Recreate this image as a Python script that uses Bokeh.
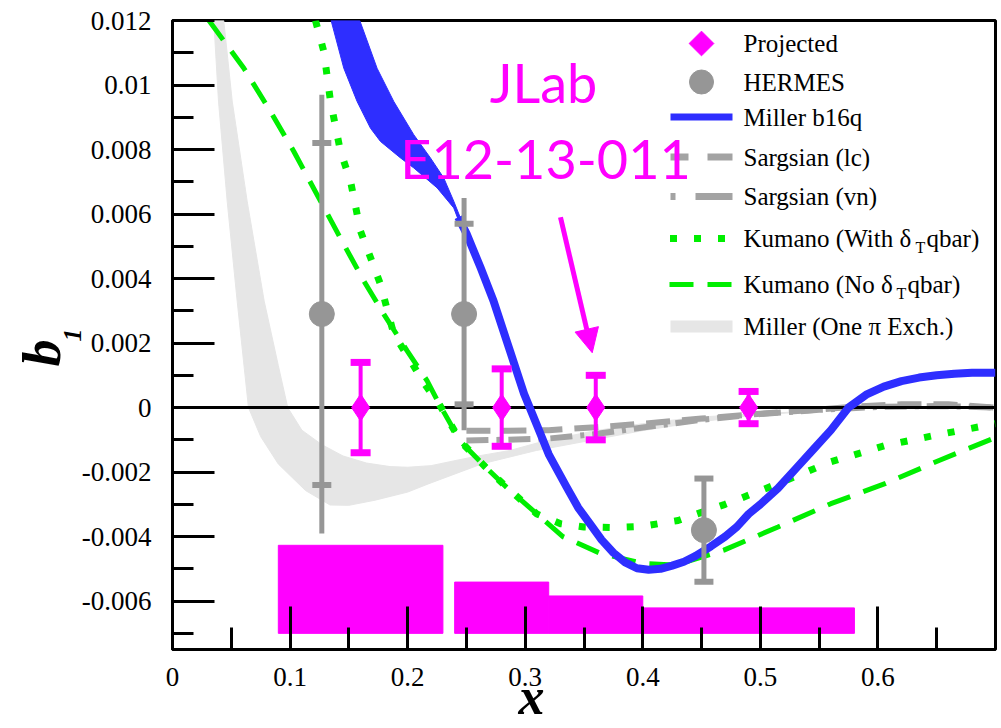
import numpy as np
from bokeh.plotting import figure
from bokeh.models import (Range1d, FixedTicker, CustomJSTickFormatter, Label, Arrow, NormalHead,
                          Title)
from bokeh.embed import file_html
from bokeh.resources import INLINE

# ---------------- data ----------------
x_ticks = [0.0, 0.1, 0.2, 0.3, 0.4, 0.5, 0.6]
x_minor = [0.05, 0.15, 0.25, 0.35, 0.45, 0.55, 0.65]
y_ticks = [-0.006, -0.004, -0.002, 0.0, 0.002, 0.004, 0.006, 0.008, 0.01, 0.012]
y_minor = [-0.007, -0.005, -0.003, -0.001, 0.001, 0.003, 0.005, 0.007, 0.009, 0.011]

# Projected JLab E12-13-011 points
proj_x = [0.16, 0.28, 0.36, 0.49]
proj_b1 = [0.0, 0.0, 0.0, 0.0]
proj_err = [0.0014, 0.0012, 0.0010, 0.0005]

# Projected systematic bands (bins)
sys_left = [0.09, 0.24, 0.32, 0.40]
sys_right = [0.23, 0.32, 0.40, 0.58]
sys_top = [-0.00427, -0.00541, -0.00584, -0.00621]
sys_base = [-0.007, -0.007, -0.007, -0.007]

# HERMES
hermes_x = [0.127, 0.248, 0.452]
hermes_b1 = [0.0029, 0.0029, -0.0038]
hermes_tot = [0.0068, 0.0036, 0.0016]
hermes_stat = [0.0053, 0.0028, 0.0016]

# Miller b16q band (upper/right edge and lower/left edge) and line
miller_hi_x = [0.1593, 0.174, 0.1882, 0.2052, 0.2194, 0.2307, 0.2392, 0.2449]
miller_hi_y = [0.0120, 0.01052, 0.00949, 0.00846, 0.00774, 0.00712, 0.0064, 0.00588]
miller_lo_x = [0.1349, 0.1457, 0.157, 0.1684, 0.1769, 0.1939, 0.2052, 0.2251, 0.2392, 0.2435]
miller_lo_y = [0.0120, 0.01052, 0.00949, 0.00866, 0.00825, 0.00774, 0.00743, 0.00681, 0.00619, 0.00578]
miller_x = [0.243, 0.25, 0.262, 0.273, 0.287, 0.299, 0.31, 0.32, 0.335, 0.345, 0.355, 0.365,
            0.375, 0.385, 0.395, 0.405, 0.415, 0.425, 0.435, 0.445, 0.458, 0.47, 0.48, 0.49,
            0.50, 0.515, 0.53, 0.545, 0.56, 0.575, 0.59, 0.605, 0.62, 0.635, 0.65, 0.665,
            0.68, 0.70]
miller_b1 = [0.0059, 0.0054, 0.00434, 0.00331, 0.00176, 0.00043, -0.00055, -0.00145, -0.00245,
             -0.0031, -0.0036, -0.0041, -0.0045, -0.0048, -0.00498, -0.00503, -0.005, -0.0049,
             -0.00478, -0.0046, -0.0043, -0.0040, -0.0037, -0.0033, -0.0030, -0.0025, -0.0019,
             -0.0013, -0.0007, 0.0, 0.0004, 0.00065, 0.00082, 0.00093, 0.001, 0.00105, 0.00108,
             0.00108]

# Miller one-pion-exchange band
pi_hi_x = [0.0436, 0.0508, 0.0635, 0.078, 0.09, 0.098, 0.11, 0.127, 0.145, 0.165, 0.185, 0.20,
           0.22, 0.241, 0.26, 0.287, 0.31, 0.332, 0.355, 0.378, 0.40, 0.446, 0.492, 0.55]
pi_hi_y = [0.012, 0.0095, 0.0064, 0.0033, 0.0013, 0.0, -0.0007, -0.00115, -0.0015, -0.00172,
           -0.00183, -0.00185, -0.0018, -0.00164, -0.0015, -0.00133, -0.0011, -0.00092, -0.00075,
           -0.00061, -0.0005, -0.0003, -0.0002, -0.0001]
pi_lo_x = [0.0351, 0.0391, 0.0465, 0.055, 0.0646, 0.075, 0.09, 0.1131, 0.134, 0.15, 0.1724, 0.20,
           0.218, 0.2636, 0.3095, 0.355, 0.4005, 0.4464, 0.492, 0.55]
pi_lo_y = [0.012, 0.0095, 0.0064, 0.0033, 0.0, -0.0009, -0.00175, -0.00257, -0.00302, -0.00303,
           -0.00287, -0.00262, -0.00236, -0.00174, -0.00133, -0.00102, -0.00071, -0.00045,
           -0.00025, -0.0001]

# Sargsian
sarg_lc_x = [0.25, 0.28, 0.32, 0.36, 0.40, 0.45, 0.50, 0.55, 0.58, 0.62, 0.66, 0.70]
sarg_lc_b1 = [-0.00072, -0.00072, -0.0007, -0.00061, -0.0005, -0.00034, -0.00019, -0.00006,
              0.00003, 0.0001, 0.0001, 0.0]
sarg_vn_x = [0.25, 0.28, 0.32, 0.36, 0.40, 0.45, 0.50, 0.55, 0.60, 0.65, 0.70]
sarg_vn_b1 = [-0.00102, -0.001, -0.00096, -0.00082, -0.00062, -0.00038, -0.0002, -0.00007,
              0.00002, 0.00005, 0.0]

# Kumano
kum_with_x = [0.1216, 0.1287, 0.1344, 0.1429, 0.1514, 0.1599, 0.1684, 0.1769, 0.1882, 0.2024,
              0.215, 0.227, 0.245, 0.265, 0.285, 0.31, 0.33, 0.35, 0.375, 0.40, 0.43, 0.47,
              0.515, 0.56, 0.606, 0.65, 0.70]
kum_with_b1 = [0.012, 0.01104, 0.00949, 0.00794, 0.00702, 0.00547, 0.00465, 0.00382, 0.00228,
               0.00145, 0.0007, 0.0001, -0.00105, -0.0018, -0.0025, -0.0033, -0.0036, -0.0037,
               -0.00372, -0.00368, -0.0035, -0.003, -0.00236, -0.00168, -0.00118, -0.00085,
               -0.0005]
kum_no_x = [0.031, 0.0607, 0.0833, 0.1032, 0.1259, 0.1457, 0.1627, 0.1797, 0.1996, 0.2166,
            0.227, 0.245, 0.265, 0.285, 0.31, 0.332, 0.364, 0.40, 0.428, 0.469, 0.515, 0.56,
            0.606, 0.652, 0.70]
kum_no_b1 = [0.012, 0.01052, 0.00918, 0.00794, 0.0064, 0.00506, 0.00393, 0.0029, 0.00176,
             0.00083, 0.0001, -0.00105, -0.0018, -0.0025, -0.0033, -0.004, -0.00452, -0.00483,
             -0.00488, -0.00442, -0.0037, -0.00298, -0.00236, -0.00164, -0.00093]

arrow_x = [0.330, 0.357]
arrow_b1 = [0.0059, 0.0017]

legend_labels = ["Projected", "HERMES", "Miller b16q", "Sargsian (lc)", "Sargsian (vn)",
                 "Kumano (With \u03b4", "Kumano (No \u03b4", "Miller (One \u03c0 Exch.)"]

# ---------------- styling constants ----------------
MAGENTA = "#ff00ff"
GREY = "#969696"
SGREY = "#a3a3a3"
LGREY = "#e6e6e6"
BLUE = "#2e2eff"
GREEN = "#00ee00"
SERIF = "'Liberation Serif', 'Times New Roman', 'DejaVu Serif', serif"

X0, X1 = 0.0, 0.7
Y0, Y1 = -0.0075, 0.012
W, H = 1001, 728
FL, FT, FR, FB = 172, 20, 6, 79
FW, FH = W - FL - FR, H - FT - FB


def px_x(px):
    return X0 + (px - FL) / FW * (X1 - X0)


def px_y(py):
    return Y1 - (py - FT) / FH * (Y1 - Y0)


p = figure(width=W, height=H, x_range=Range1d(X0, X1), y_range=Range1d(Y0, Y1),
           output_backend="svg", toolbar_location=None,
           min_border_left=FL, min_border_top=FT, min_border_right=FR, min_border_bottom=FB)
p.xgrid.visible = False
p.ygrid.visible = False
p.outline_line_color = "black"
p.outline_line_width = 3
p.background_fill_color = "white"
p.border_fill_color = "white"

fmt = CustomJSTickFormatter(code="return (Math.round(tick*1e6)/1e6).toString();")
p.xaxis.ticker = FixedTicker(ticks=x_ticks, minor_ticks=x_minor)
p.yaxis.ticker = FixedTicker(ticks=y_ticks, minor_ticks=y_minor)
for ax, tin, tmin, stand in ((p.xaxis, 43, 22, 18), (p.yaxis, 42, 21, 21)):
    ax.formatter = fmt
    ax.axis_line_width = 3
    ax.axis_line_color = "black"
    ax.major_tick_in = tin
    ax.major_tick_out = 0
    ax.minor_tick_in = tmin
    ax.minor_tick_out = 0
    ax.major_tick_line_width = 3
    ax.minor_tick_line_width = 3
    ax.major_tick_line_color = "black"
    ax.minor_tick_line_color = "black"
    ax.major_label_text_font = SERIF
    ax.major_label_text_font_size = "27px"
    ax.major_label_text_color = "black"
    ax.major_label_standoff = stand

# axis titles (b with subscript 1, and x)
p.add_layout(Title(text="1", align="left", offset=308, vertical_align="top", standoff=-9,
                   text_font=SERIF, text_font_style="bold italic", text_font_size="26px",
                   text_color="black"), "left")
p.add_layout(Title(text="b", align="left", offset=283, vertical_align="top", standoff=-10,
                   text_font=SERIF, text_font_style="bold italic", text_font_size="54px",
                   text_color="black"), "left")
p.add_layout(Title(text="x", align="left", offset=346, vertical_align="bottom", standoff=-45,
                   text_font=SERIF, text_font_style="bold italic", text_font_size="52px",
                   text_color="black"), "below")

# systematic bars
p.quad(left=sys_left, right=sys_right, bottom=sys_base, top=sys_top,
       fill_color=MAGENTA, line_color=MAGENTA, line_width=1)

# one-pion exchange band
p.patch(pi_hi_x + pi_lo_x[::-1], pi_hi_y + pi_lo_y[::-1],
        fill_color=LGREY, line_color=LGREY, line_width=1)

# Sargsian
p.line(sarg_vn_x, sarg_vn_b1, line_color=SGREY, line_width=6, line_dash="22 8 4 8")
p.line(sarg_lc_x, sarg_lc_b1, line_color=SGREY, line_width=6, line_dash="24 12")

# zero line
p.hspan(y=[0.0], line_color="black", line_width=3)

# Kumano
p.line(kum_no_x, kum_no_b1, line_color=GREEN, line_width=5, line_dash="24 14")
p.line(kum_with_x, kum_with_b1, line_color=GREEN, line_width=7, line_dash="7 17")

# Miller b16q
p.patch(miller_hi_x + miller_lo_x[::-1], miller_hi_y + miller_lo_y[::-1],
        fill_color=BLUE, line_color=BLUE, line_width=1)
p.line(miller_x, miller_b1, line_color=BLUE, line_width=8, line_join="round")

# HERMES
p.segment(x0=hermes_x, x1=hermes_x,
          y0=[b - e for b, e in zip(hermes_b1, hermes_tot)],
          y1=[b + e for b, e in zip(hermes_b1, hermes_tot)],
          line_color=GREY, line_width=5)
p.scatter(hermes_x * 2,
          [b - e for b, e in zip(hermes_b1, hermes_stat)] + [b + e for b, e in zip(hermes_b1, hermes_stat)],
          marker="dash", size=19, line_color=GREY, line_width=6)
p.scatter(hermes_x, hermes_b1, marker="circle", size=25, fill_color=GREY, line_color=GREY)

# Projected
p.segment(x0=proj_x, x1=proj_x,
          y0=[b - e for b, e in zip(proj_b1, proj_err)],
          y1=[b + e for b, e in zip(proj_b1, proj_err)],
          line_color=MAGENTA, line_width=4)
p.scatter(proj_x * 2,
          [b - e for b, e in zip(proj_b1, proj_err)] + [b + e for b, e in zip(proj_b1, proj_err)],
          marker="dash", size=20, line_color=MAGENTA, line_width=7)
p.scatter(proj_x, proj_b1, marker="diamond", size=27, fill_color=MAGENTA, line_color=MAGENTA)

# ---------------- legend (drawn manually) ----------------
rows = [43, 81.5, 116.5, 156.5, 196, 238, 284, 326]
sx0, sx1 = px_x(670), px_x(732)
p.scatter([px_x(701)], [px_y(rows[0])], marker="square", angle=np.pi / 4, size=17.5,
          fill_color=MAGENTA, line_color=MAGENTA)
p.scatter([px_x(701)], [px_y(rows[1])], marker="circle", size=24, fill_color=GREY, line_color=GREY)
p.line([sx0, sx1], [px_y(rows[2])] * 2, line_color=BLUE, line_width=7)
p.line([sx0, sx1], [px_y(rows[3])] * 2, line_color=SGREY, line_width=7, line_dash="18 19 25")
p.line([sx0, sx1], [px_y(rows[4])] * 2, line_color=SGREY, line_width=7, line_dash="5 20 40")
p.line([px_x(669.5), sx1], [px_y(rows[5])] * 2, line_color=GREEN, line_width=7, line_dash="7 17")
p.line([px_x(669), sx1], [px_y(rows[6])] * 2, line_color=GREEN, line_width=5, line_dash="24 14")
p.line([sx0, sx1], [px_y(rows[7])] * 2, line_color=LGREY, line_width=12)

for lab, ry in zip(legend_labels, rows):
    p.add_layout(Label(x=px_x(743), y=px_y(ry), text=lab, text_font=SERIF,
                       text_font_size="25px", text_baseline="middle", text_align="left",
                       text_color="black"))
# subscript T and the rest of the Kumano labels
for tx, rx, ry in ((915, 926, rows[5]), (896, 907, rows[6])):
    p.add_layout(Label(x=px_x(tx), y=px_y(ry + 9), text="T", text_font=SERIF,
                       text_font_size="16px", text_baseline="middle", text_align="left",
                       text_color="black"))
    p.add_layout(Label(x=px_x(rx), y=px_y(ry), text="qbar)", text_font=SERIF,
                       text_font_size="25px", text_baseline="middle", text_align="left",
                       text_color="black"))

# ---------------- JLab annotation ----------------
p.add_layout(Label(x=px_x(543), y=px_y(82), text="JLab", text_font="Lato", text_font_size="54px",
                   text_color=MAGENTA, text_align="center", text_baseline="alphabetic"))
p.add_layout(Label(x=px_x(545), y=px_y(158), text="E12-13-011", text_font="Lato",
                   text_font_size="54px", text_color=MAGENTA, text_align="center",
                   text_baseline="alphabetic"))
p.add_layout(Arrow(end=NormalHead(size=24, fill_color=MAGENTA, line_color=MAGENTA),
                   x_start=arrow_x[0], y_start=arrow_b1[0], x_end=arrow_x[1], y_end=arrow_b1[1],
                   line_color=MAGENTA, line_width=5))

open("out.html", "w").write(file_html(p, INLINE))
